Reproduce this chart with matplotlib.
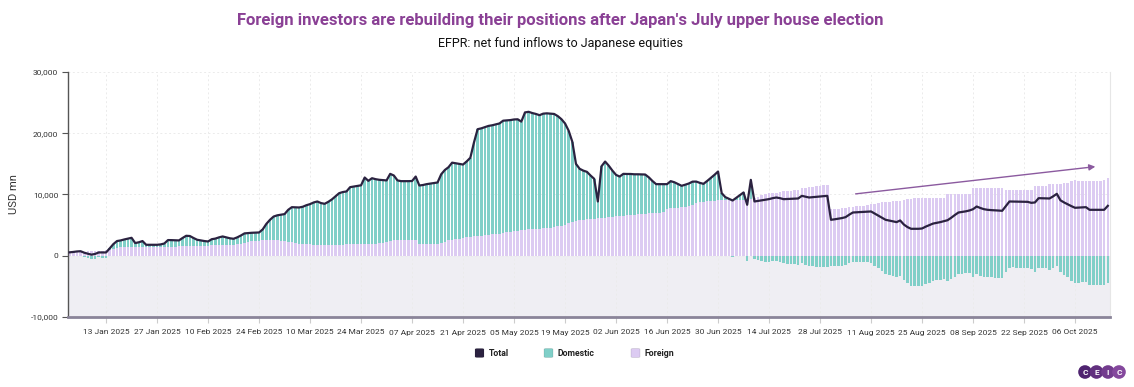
import matplotlib.pyplot as plt
import matplotlib.dates as mdates
from matplotlib.patches import FancyBboxPatch, Circle
from matplotlib.ticker import FuncFormatter
import numpy as np
import pandas as pd

plt.rcParams['font.family'] = ['Roboto', 'DejaVu Sans']

# daily values, USD mn, 3 Jan 2025 .. 15 Oct 2025
total_jan = [560, 620, 700, 740, 500, 330, 180, 300, 540, 540, 540, 1200, 1900, 2400, 2500,
             2660, 2800, 2930, 2070, 2200, 2400, 1790, 1790, 1790, 1790, 1850, 2000, 2560, 2550]
total_feb = [2520, 2500, 2900, 3260, 3220, 2900, 2610, 2500, 2400, 2330, 2700, 2800, 3000, 3150,
             3000, 2850, 2770, 3000, 3300, 3650, 3700, 3750, 3780, 3800, 4300, 5200, 5870, 6400]
total_mar = [6600, 6700, 6800, 7500, 7930, 7900, 7880, 8000, 8250, 8430, 8700, 8860, 8600, 8480,
             8800, 9200, 9700, 10220, 10400, 10500, 11200, 11300, 11400, 11500, 12770, 12230,
             12660, 12500, 12400, 12350, 12300]
total_apr = [13370, 13100, 12300, 12180, 12180, 12180, 12200, 12930, 11470, 11550, 11690, 11780,
             11870, 11960, 13300, 14000, 14450, 15200, 15100, 15000, 14890, 15400, 16000, 18500,
             20660, 20800, 21000, 21200, 21300, 21450]
total_may = [21600, 22050, 22100, 22150, 22250, 22280, 21900, 23400, 23500, 23300, 23150, 22950,
             23200, 23250, 23200, 23150, 22800, 22300, 21600, 20400, 18600, 15000, 14200, 13900,
             13700, 13100, 12560, 8860, 14600, 15380, 14700]
total_jun = [13900, 13200, 12930, 13370, 13350, 13350, 13300, 13300, 13280, 13260, 12800, 12200,
             11690, 11690, 11690, 11690, 12180, 12000, 11700, 11420, 11600, 11800, 12100, 12110,
             11900, 11740, 12200, 12700, 13200, 13750]
total_jul = [10220, 9570, 9300, 9020, 9450, 9900, 10330, 8320, 12390, 8860, 8950, 9050, 9150,
             9250, 9400, 9510, 9400, 9240, 9270, 9300, 9330, 9350, 9780, 9650, 9510, 9560, 9620,
             9680, 9730, 9780, 5870]
total_aug = [5950, 6050, 6150, 6300, 6700, 7060, 7100, 7130, 7160, 7200, 7230, 6900, 6550, 6200,
             5870, 5750, 5620, 5490, 5760, 5100, 4680, 4400, 4400, 4400, 4450, 4750, 5000, 5250,
             5370, 5490, 5650]
total_sep = [5800, 6200, 6650, 7060, 7150, 7250, 7390, 7600, 8040, 7800, 7600, 7500, 7450, 7420,
             7380, 7340, 8100, 8860, 8850, 8840, 8830, 8820, 8800, 8640, 8700, 9400, 9380, 9370,
             9350, 9700]
total_oct = [10110, 9050, 8700, 8400, 8100, 7830, 7860, 7900, 7930, 7500, 7500, 7500, 7500, 7500,
             8150]

foreign_jan = [500, 520, 560, 600, 650, 700, 720, 750, 800, 850, 870, 1000, 1150, 1300, 1350,
               1350, 1380, 1380, 1350, 1350, 1360, 1380, 1400, 1420, 1430, 1450, 1480, 1500, 1500]
foreign_feb = [1500, 1520, 1520, 1540, 1550, 1550, 1560, 1580, 1600, 1650, 1700, 1750, 1780, 1790,
               1800, 1800, 1800, 1850, 1950, 2100, 2250, 2350, 2400, 2450, 2500, 2550, 2550, 2500]
foreign_mar = [2500, 2450, 2400, 2300, 2200, 2100, 2000, 1950, 1900, 1850, 1800, 1800, 1750, 1750,
               1750, 1750, 1750, 1800, 1800, 1850, 1900, 1900, 1900, 1950, 1950, 2000, 2000, 2000,
               2050, 2100, 2200]
foreign_apr = [2400, 2500, 2550, 2600, 2600, 2600, 2600, 2550, 2000, 1950, 1950, 1950, 1950, 1950,
               2100, 2300, 2500, 2600, 2700, 2800, 2900, 3000, 3100, 3150, 3200, 3300, 3400, 3450,
               3500, 3550]
foreign_may = [3600, 3700, 3800, 3900, 4000, 4100, 4200, 4250, 4300, 4300, 4350, 4400, 4450, 4500,
               4600, 4700, 4800, 4900, 5100, 5300, 5500, 5700, 5800, 5900, 5950, 6000, 6050, 6100,
               6150, 6200, 6300]
foreign_jun = [6400, 6450, 6500, 6550, 6600, 6650, 6700, 6750, 6800, 6850, 6900, 6950, 7000, 7050,
               7100, 7700, 7750, 7800, 7850, 7900, 8000, 8100, 8300, 8600, 8800, 8850, 8900, 8950,
               9000, 9100]
foreign_jul = [9150, 9150, 9150, 9150, 9150, 9150, 9150, 9200, 9250, 9400, 9600, 9900, 10100,
               10200, 10250, 10300, 10400, 10500, 10550, 10650, 10700, 10800, 11000, 11100, 11200,
               11300, 11400, 11450, 11500, 11550, 7600]
foreign_aug = [7650, 7700, 7750, 7800, 7900, 8000, 8050, 8100, 8200, 8300, 8400, 8500, 8600, 8700,
               8800, 8850, 8900, 8950, 9000, 9100, 9200, 9300, 9350, 9400, 9400, 9400, 9400, 9400,
               9400, 9400, 9400]
foreign_sep = [10000, 10000, 10050, 10050, 10100, 10100, 10150, 11000, 11000, 11050, 11050, 11000,
               11000, 11050, 11000, 11000, 10800, 10800, 10750, 10800, 10800, 10750, 10800, 10800,
               11400, 11400, 11450, 11400, 11700, 11750]
foreign_oct = [11750, 11750, 11800, 11800, 12250, 12300, 12250, 12200, 12200, 12250, 12200, 12200,
               12250, 12300, 12650]

total = np.array(total_jan + total_feb + total_mar + total_apr + total_may + total_jun
                 + total_jul + total_aug + total_sep + total_oct, dtype=float)
foreign = np.array(foreign_jan + foreign_feb + foreign_mar + foreign_apr + foreign_may
                   + foreign_jun + foreign_jul + foreign_aug + foreign_sep + foreign_oct, dtype=float)
domestic = total - foreign
dates = pd.date_range("2025-01-03", periods=len(total), freq="D")

c_total = "#2b2240"
c_dom = "#80cfc8"
c_for = "#dccbf2"

fig = plt.figure(figsize=(11.34, 3.87), dpi=100)
ax = fig.add_axes([68 / 1134, 70 / 387, 1042 / 1134, 245 / 387])

ax.axhspan(-10000, 0, color="#efeef3", zorder=0, lw=0)
x = mdates.date2num(dates)
ax.bar(x, foreign, width=0.72, color=c_for, lw=0, zorder=2)
dom_bottom = np.where(domestic > 0, foreign, 0)
ax.bar(x, domestic, bottom=dom_bottom, width=0.72, color=c_dom, lw=0, zorder=2)
ax.plot(x, total, color=c_total, lw=1.6, zorder=3)

ax.annotate("", xy=(mdates.date2num(pd.Timestamp("2025-10-12 08:00")), 14600),
            xytext=(mdates.date2num(pd.Timestamp("2025-08-06")), 10050),
            arrowprops=dict(arrowstyle="-|>", color="#8b5a9f", lw=1, mutation_scale=9),
            zorder=4)

ax.set_xlim(x[0] - 0.45, x[-1] + 0.6)
ax.set_ylim(-10000, 30000)
ax.set_yticks([-10000, 0, 10000, 20000, 30000])
ax.yaxis.set_major_formatter(FuncFormatter(lambda v, p: f"{v:,.0f}"))
xt = pd.date_range("2025-01-13", "2025-10-06", freq="14D")
ax.set_xticks(mdates.date2num(xt))
ax.set_xticklabels([d.strftime("%d %b %Y") for d in xt])

ax.set_axisbelow(True)
ax.grid(True, color="#ebebeb", lw=0.7, ls=(0, (2, 2.5)))
ax.tick_params(axis="x", length=4, color="#cccccc", labelsize=6, labelcolor="#333333", pad=5)
ax.tick_params(axis="y", length=4, color="#555555", labelsize=6, labelcolor="#333333", pad=3)
ax.set_ylabel("USD mn", fontsize=8, color="#333333", labelpad=8)

ax.spines["top"].set_visible(False)
ax.spines["right"].set_color("#e6e6e6")
ax.spines["right"].set_linewidth(0.8)
ax.spines["left"].set_color("#555555")
ax.spines["left"].set_linewidth(1)
ax.spines["bottom"].set_color("#8a8499")
ax.spines["bottom"].set_linewidth(2)

fig.text(560 / 1134, 1 - 20 / 387,
         "Foreign investors are rebuilding their positions after Japan's July upper house election",
         ha="center", va="center", fontsize=12, fontweight="bold", color="#8a4095")
fig.text(561 / 1134, 1 - 44 / 387, "EFPR: net fund inflows to Japanese equities",
         ha="center", va="center", fontsize=9, color="#111111")

# legend
for px, label, col in [(475, "Total", c_total), (544, "Domestic", c_dom), (631, "Foreign", c_for)]:
    fig.add_artist(FancyBboxPatch((px / 1134, 1 - 357.5 / 387), 9 / 1134, 9 / 387,
                                  boxstyle="round,pad=0,rounding_size=0.002",
                                  transform=fig.transFigure, fc=col, ec="#00000022", lw=0.5))
    fig.text((px + 13.5) / 1134, 1 - 353 / 387, label, ha="left", va="center",
             fontsize=6.3, fontweight="bold", color="#222222")

# CEIC logo
lax = fig.add_axes([1077 / 1134, 1 - 380 / 387, 50 / 1134, 16 / 387])
lax.set_xlim(0, 50)
lax.set_ylim(0, 16)
lax.axis("off")
for cx, ch, col in [(8, "C", "#4f2470"), (19.5, "E", "#62307f"), (31, "I", "#733c8e"), (42, "C", "#84489d")]:
    lax.add_patch(Circle((cx, 8), 6.8, fc=col, ec="none"))
    lax.text(cx, 7.8, ch, ha="center", va="center", fontsize=6, fontweight="bold", color="white")

fig.savefig("out.png", dpi=100)
